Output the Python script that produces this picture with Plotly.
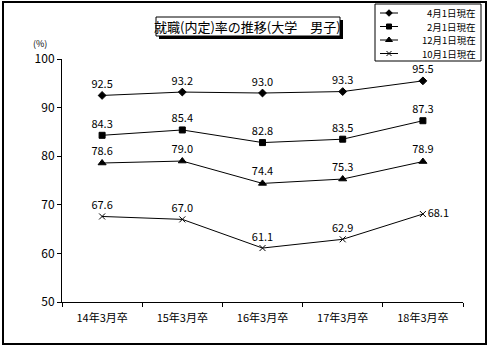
import plotly.graph_objects as go

# Graduation years (categories) and employment rates per survey date
categories = ["14年3月卒", "15年3月卒", "16年3月卒", "17年3月卒", "18年3月卒"]
apr1 = [92.5, 93.2, 93.0, 93.3, 95.5]
feb1 = [84.3, 85.4, 82.8, 83.5, 87.3]
dec1 = [78.6, 79.0, 74.4, 75.3, 78.9]
oct1 = [67.6, 67.0, 61.1, 62.9, 68.1]
series_names = ["4月1日現在", "2月1日現在", "12月1日現在", "10月1日現在"]
title_text = "就職(内定)率の推移(大学\u3000男子)"

W, H = 490, 348
L, R, T, B = 62, 463, 59, 302  # plot area in pixels
FONT = "Noto Sans CJK JP, MS PGothic, sans-serif"


def fx(x):
    return x / W


def fy(y):
    return (H - y) / H


fig = go.Figure()

series = [
    (apr1, series_names[0], "diamond", 6),
    (feb1, series_names[1], "square", 6),
    (dec1, series_names[2], "triangle-up", 7),
    (oct1, series_names[3], "x-thin", 6),
]
for vals, name, sym, size in series:
    positions = ["top center"] * len(vals)
    if name == series_names[3]:
        positions[-1] = "middle right"
    fig.add_trace(go.Scatter(
        x=categories, y=vals, name=name,
        mode="lines+markers+text",
        text=[f"{v:.1f}" for v in vals],
        textposition=positions,
        textfont=dict(family=FONT, size=11, color="black"),
        line=dict(color="black", width=1),
        marker=dict(symbol=sym, size=size, color="black",
                    line=dict(color="black", width=1)),
        cliponaxis=False, showlegend=False,
    ))

# Legend box: its own small pixel-scaled axis pair
LEG = (375, 481, 4, 61)
leg_rows = [13, 26.5, 40, 53.5]
leg_x0, leg_x1, leg_mark = 380, 398, 389

shapes = [
    # outer frame
    dict(type="rect", xref="paper", yref="paper",
         x0=fx(3), x1=fx(486), y0=fy(344), y1=fy(2),
         line=dict(color="black", width=2)),
    # title box shadow
    dict(type="rect", xref="paper", yref="paper",
         x0=fx(159), x1=fx(343), y0=fy(39), y1=fy(20),
         line=dict(width=0), fillcolor="black"),
    # title box
    dict(type="rect", xref="paper", yref="paper",
         x0=fx(156), x1=fx(340), y0=fy(36), y1=fy(17),
         line=dict(color="black", width=1), fillcolor="white"),
    # legend box
    dict(type="rect", xref="paper", yref="paper",
         x0=fx(LEG[0]), x1=fx(LEG[1]), y0=fy(LEG[3]), y1=fy(LEG[2]),
         line=dict(color="black", width=1)),
]

annotations = [
    dict(text=title_text, xref="paper", yref="paper",
         x=fx(248), y=fy(26.5), xanchor="center", yanchor="middle",
         showarrow=False, font=dict(family=FONT, size=13, color="black")),
    dict(text="(%)", xref="paper", yref="paper",
         x=fx(40), y=fy(43), xanchor="center", yanchor="middle",
         showarrow=False, font=dict(family=FONT, size=9, color="black")),
]

for (vals, name, sym, size), ry in zip(series, leg_rows):
    shapes.append(dict(type="line", xref="paper", yref="paper",
                       x0=fx(leg_x0), x1=fx(leg_x1), y0=fy(ry), y1=fy(ry),
                       line=dict(color="black", width=1)))
    annotations.append(dict(text=name, xref="paper", yref="paper",
                            x=fx(478), y=fy(ry), xanchor="right",
                            yanchor="middle", showarrow=False,
                            font=dict(family=FONT, size=9.5, color="black")))
    fig.add_trace(go.Scatter(
        x=[leg_mark], y=[ry], xaxis="x2", yaxis="y2", mode="markers",
        marker=dict(symbol=sym, size=size - 1, color="black",
                    line=dict(color="black", width=1)),
        cliponaxis=False, showlegend=False, hoverinfo="skip",
    ))

fig.update_layout(
    width=W, height=H,
    margin=dict(l=0, r=0, t=0, b=0),
    paper_bgcolor="white", plot_bgcolor="white",
    font=dict(family=FONT, size=11, color="black"),
    shapes=shapes, annotations=annotations,
    showlegend=False,
    xaxis=dict(
        domain=[fx(L), fx(R)], anchor="y",
        range=[-0.5, 4.5], showline=True, linecolor="black", linewidth=1,
        ticks="outside", tickson="boundaries", ticklen=4, tickcolor="black",
        showgrid=False, zeroline=False, ticklabelstandoff=6, automargin=False,
        tickfont=dict(family=FONT, size=11, color="black"),
    ),
    yaxis=dict(
        domain=[fy(B), fy(T)], anchor="x",
        range=[50, 100], dtick=10, showline=True, linecolor="black",
        linewidth=1, ticks="outside", ticklen=4, tickcolor="black",
        showgrid=False, zeroline=False, automargin=False,
        tickfont=dict(family=FONT, size=12, color="black"),
    ),
    xaxis2=dict(domain=[fx(LEG[0]), fx(LEG[1])], anchor="y2",
                range=[LEG[0], LEG[1]], visible=False),
    yaxis2=dict(domain=[fy(LEG[3]), fy(LEG[2])], anchor="x2",
                range=[LEG[3], LEG[2]], visible=False),
)

fig.write_html("out.html")
